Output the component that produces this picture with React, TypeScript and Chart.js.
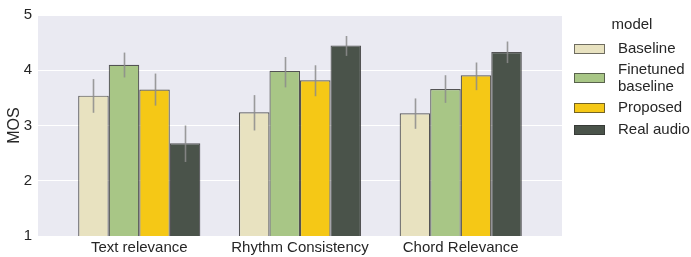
import React, { useEffect, useRef } from "react";
import { Chart, registerables } from "chart.js";

Chart.register(...registerables);

const categories = ["Text relevance", "Rhythm Consistency", "Chord Relevance"];
const seriesNames = ["Baseline", "Finetuned\nbaseline", "Proposed", "Real audio"];
const seriesColors = ["#E8E2C0", "#A8C686", "#F5C816", "#4A534A"];

const baseline = [3.54, 3.24, 3.22];
const baselineLo = [3.23, 2.91, 2.94];
const baselineHi = [3.84, 3.55, 3.49];

const finetuned = [4.1, 3.99, 3.66];
const finetunedLo = [3.87, 3.69, 3.41];
const finetunedHi = [4.32, 4.24, 3.91];

const proposed = [3.65, 3.82, 3.91];
const proposedLo = [3.36, 3.53, 3.64];
const proposedHi = [3.94, 4.09, 4.14];

const realAudio = [2.68, 4.45, 4.33];
const realAudioLo = [2.34, 4.26, 4.13];
const realAudioHi = [3.0, 4.62, 4.52];

const yTicks = [1, 2, 3, 4, 5];

const FONT = "'Liberation Sans', Arial, sans-serif";
const TEXT = "#262626";

const seriesValues = [baseline, finetuned, proposed, realAudio];
const seriesLo = [baselineLo, finetunedLo, proposedLo, realAudioLo];
const seriesHi = [baselineHi, finetunedHi, proposedHi, realAudioHi];

const bgPlugin = {
  id: "plotBg",
  beforeDraw(chart: any) {
    const { ctx, chartArea } = chart;
    ctx.save();
    ctx.fillStyle = "#EAEAF2";
    ctx.fillRect(chartArea.left, chartArea.top, chartArea.right - chartArea.left, chartArea.bottom - chartArea.top);
    ctx.restore();
  },
};

const errPlugin = {
  id: "errBars",
  afterDatasetsDraw(chart: any) {
    const { ctx } = chart;
    const y = chart.scales.y;
    ctx.save();
    ctx.strokeStyle = "rgba(140,140,140,0.85)";
    ctx.lineWidth = 1.6;
    chart.data.datasets.forEach((ds: any, di: number) => {
      const meta = chart.getDatasetMeta(di);
      meta.data.forEach((el: any, i: number) => {
        const x = Math.round(el.x) + 0.5;
        ctx.beginPath();
        ctx.moveTo(x, y.getPixelForValue(ds.lo[i]));
        ctx.lineTo(x, y.getPixelForValue(ds.hi[i]));
        ctx.stroke();
      });
    });
    ctx.restore();
  },
};

const legendPlugin = {
  id: "customLegend",
  afterDraw(chart: any) {
    const { ctx, chartArea } = chart;
    const x0 = chartArea.right + 12;
    ctx.save();
    ctx.fillStyle = TEXT;
    ctx.font = `15px ${FONT}`;
    ctx.textAlign = "center";
    ctx.textBaseline = "middle";
    ctx.fillText("model", x0 + 58, 25);
    const lineH = 16.6;
    const gap = 5;
    let top = 40.2;
    chart.data.datasets.forEach((ds: any) => {
      const lines = String(ds.label).split("\n");
      const h = lines.length * lineH;
      const cy = top + h / 2;
      ctx.fillStyle = ds.backgroundColor;
      ctx.fillRect(x0, Math.round(cy - 5), 31, 10);
      ctx.strokeStyle = "rgba(45,45,45,0.65)";
      ctx.lineWidth = 1;
      ctx.strokeRect(x0 + 0.5, Math.round(cy - 5) + 0.5, 30, 9);
      ctx.fillStyle = TEXT;
      ctx.textAlign = "left";
      lines.forEach((ln, k) => {
        ctx.fillText(ln, x0 + 44, top + lineH * k + lineH / 2);
      });
      top += h + gap;
    });
    ctx.restore();
  },
};

export default function App() {
  const ref = useRef<HTMLCanvasElement | null>(null);
  useEffect(() => {
    document.body.style.margin = "0";
    if (!ref.current) return;
    const chart = new Chart(ref.current, {
      type: "bar",
      data: {
        datasets: seriesNames.map((name, si) => ({
          label: name,
          data: seriesValues[si].map((v, i) => ({ x: i, y: v })),
          lo: seriesLo[si],
          hi: seriesHi[si],
          backgroundColor: seriesColors[si],
          borderColor: "rgba(40,40,40,0.78)",
          borderWidth: 1.2,
          borderSkipped: false,
          categoryPercentage: 0.76,
          barPercentage: 1,
        })) as any,
      },
      options: {
        animation: false,
        responsive: true,
        maintainAspectRatio: false,
        layout: { padding: { left: 0, right: 129, top: 13, bottom: 0 } },
        plugins: { legend: { display: false }, tooltip: { enabled: false } },
        scales: {
          x: {
            type: "linear",
            offset: false,
            min: -0.63,
            max: 2.63,
            grid: { display: false, drawTicks: false, offset: false },
            border: { display: false },
            afterBuildTicks: (scale: any) => {
              scale.ticks = categories.map((_, i) => ({ value: i }));
            },
            afterFit: (scale: any) => {
              scale.height = 21;
            },
            ticks: {
              padding: 3,
              color: TEXT,
              font: { family: FONT, size: 15 },
              maxRotation: 0,
              autoSkip: false,
              callback: (v: any) => categories[v] ?? "",
            },
          },
          y: {
            min: 1,
            max: 5,
            afterBuildTicks: (scale: any) => {
              scale.ticks = yTicks.map((v) => ({ value: v }));
            },
            afterFit: (scale: any) => {
              scale.width = 38;
            },
            grid: { color: "#FFFFFF", lineWidth: 1, drawTicks: false },
            border: { display: false },
            ticks: {
              padding: 6,
              color: TEXT,
              font: { family: FONT, size: 15 },
            },
            title: {
              display: true,
              text: "MOS",
              color: TEXT,
              font: { family: FONT, size: 16 },
              padding: 5,
            },
          },
        },
      },
      plugins: [bgPlugin, errPlugin, legendPlugin],
    });
    return () => chart.destroy();
  }, []);
  return (
    <div style={{ position: "relative", width: 691, height: 257 }}>
      <canvas ref={ref} />
    </div>
  );
}
